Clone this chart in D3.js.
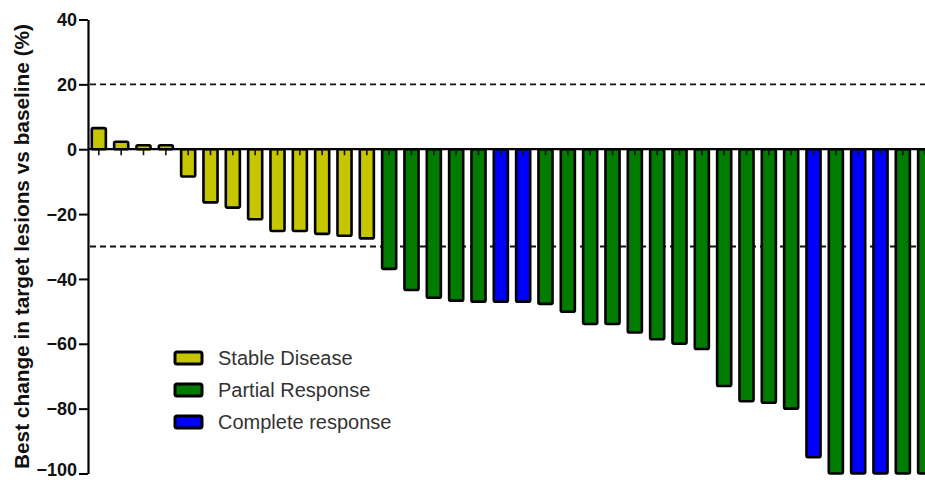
<!DOCTYPE html>
<html>
<head>
<meta charset="utf-8">
<script src="https://cdn.jsdelivr.net/npm/d3@7"></script>
<style>
  html, body { margin: 0; padding: 0; background: #fff; }
  svg { display: block; }
</style>
</head>
<body>
<svg id="chart" width="925" height="480"></svg>
<script>
// Best percentage change in target lesions per patient, sorted waterfall order
const patients = d3.range(1, 39).map(i => "P" + i);
const bestChange = [
  6.5, 2.3, 1.2, 1.2, -8.4, -16.4, -18, -21.6, -25.2, -25.2, -26.1, -26.7, -27.5,
  -36.9, -43.4, -45.8, -46.7, -47, -47, -47, -47.7, -50.1, -53.9, -53.9, -56.5,
  -58.6, -60, -61.6, -73, -77.7, -78.2, -80, -95, -100, -100, -100, -100, -100
];
const response = [
  "SD", "SD", "SD", "SD", "SD", "SD", "SD", "SD", "SD", "SD", "SD", "SD", "SD",
  "PR", "PR", "PR", "PR", "PR", "CR", "CR", "PR", "PR", "PR", "PR", "PR",
  "PR", "PR", "PR", "PR", "PR", "PR", "PR", "CR", "PR", "CR", "CR", "PR", "PR"
];
const responseKeys = ["SD", "PR", "CR"];
const responseLabels = ["Stable Disease", "Partial Response", "Complete response"];
const responseColors = ["#c6c600", "#007d00", "#0000ff"];
const yTicks = [40, 20, 0, -20, -40, -60, -80, -100];
const refLines = [20, -30];

const svg = d3.select("#chart");
const font = "'Liberation Sans', Arial, sans-serif";

const x = d3.scaleBand()
  .domain(patients)
  .range([88, 936])
  .paddingInner(0.37)
  .paddingOuter(0.17);

const y = d3.scaleLinear()
  .domain([-100, 40])
  .range([473.5, 19.5]);

const color = d3.scaleOrdinal().domain(responseKeys).range(responseColors);

// Reference thresholds (dashed)
svg.append("g").selectAll("line")
  .data(refLines)
  .join("line")
  .attr("x1", 90).attr("x2", 925)
  .attr("y1", d => y(d)).attr("y2", d => y(d))
  .attr("stroke", "#111")
  .attr("stroke-width", 1.8)
  .attr("stroke-dasharray", "6,4");

// Waterfall bars
svg.append("g").selectAll("rect")
  .data(bestChange)
  .join("rect")
  .attr("x", (d, i) => x(patients[i]))
  .attr("width", x.bandwidth())
  .attr("y", d => y(Math.max(0, d)))
  .attr("height", d => Math.abs(y(d) - y(0)))
  .attr("rx", 1.5)
  .attr("fill", (d, i) => color(response[i]))
  .attr("stroke", "#000")
  .attr("stroke-width", 2.6);

// Baseline axis with ticks under each patient
const xAxis = svg.append("g")
  .attr("transform", `translate(0,${y(0)})`)
  .call(d3.axisBottom(x).tickSize(6).tickSizeOuter(0).tickFormat(""));
xAxis.select(".domain").attr("d", `M88,0H925`).attr("stroke", "#000").attr("stroke-width", 2.2);
xAxis.selectAll(".tick line").attr("stroke", "#111").attr("stroke-width", 1.6);

// Vertical value axis
const yAxis = svg.append("g")
  .attr("transform", "translate(88,0)")
  .call(d3.axisLeft(y).tickValues(yTicks).tickSize(9).tickSizeOuter(0).tickPadding(2));
yAxis.select(".domain").attr("stroke", "#000").attr("stroke-width", 2.2);
yAxis.selectAll(".tick line").attr("stroke", "#000").attr("stroke-width", 2);
yAxis.selectAll(".tick text")
  .attr("font-family", font)
  .attr("font-size", 18)
  .attr("font-weight", "bold")
  .attr("dy", d => d === -100 ? "0.12em" : "0.34em")
  .attr("fill", "#111");

// Axis title
svg.append("text")
  .attr("transform", `translate(29,${(19 + 474) / 2}) rotate(-90)`)
  .attr("text-anchor", "middle")
  .attr("font-family", font)
  .attr("font-size", 20.8)
  .attr("font-weight", "bold")
  .attr("fill", "#111")
  .text("Best change in target lesions vs baseline (%)");

// Legend
const legend = svg.append("g").attr("transform", "translate(175,358)");
const rows = legend.selectAll("g")
  .data(responseKeys)
  .join("g")
  .attr("transform", (d, i) => `translate(0,${i * 32})`);
rows.append("rect")
  .attr("x", 0).attr("y", -6)
  .attr("width", 27).attr("height", 12)
  .attr("rx", 2)
  .attr("fill", d => color(d))
  .attr("stroke", "#000")
  .attr("stroke-width", 3);
rows.append("text")
  .attr("x", 43).attr("y", 0)
  .attr("dy", "0.35em")
  .attr("font-family", font)
  .attr("font-size", 20)
  .attr("fill", "#333")
  .text((d, i) => responseLabels[i]);
</script>
</body>
</html>
